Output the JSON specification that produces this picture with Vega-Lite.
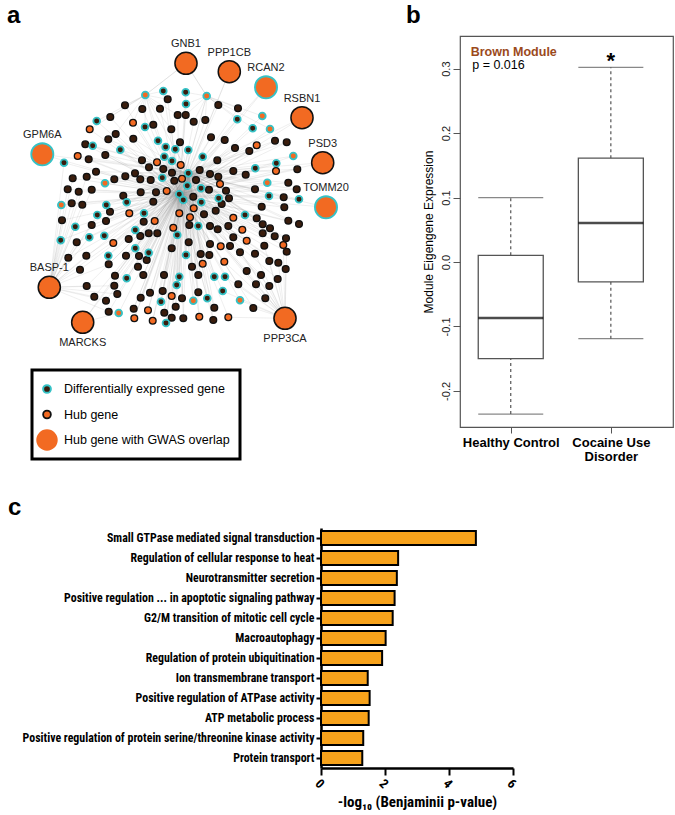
{
"$schema":"https://vega.github.io/schema/vega-lite/v6.json",
"padding":{"left":7,"top":3,"right":0,"bottom":0},
"config":{"view":{"stroke":null},"font":"Liberation Sans","axis":{"grid":false},"title":{"anchor":"start","fontSize":24,"fontWeight":"bold","font":"Liberation Sans","color":"black","offset":8}},
"datasets":{
"nodes":[
{"id":"T1","x":145.3,"y":95,"t":"OT","a":"GNB1","b":"C"},
{"x":163.3,"y":91,"t":"BT","a":"T1","b":"C"},
{"x":167.7,"y":99.3,"t":"B","a":"T1","b":"C"},
{"x":125,"y":105.3,"t":"B","a":"T1","b":"C"},
{"x":142.3,"y":109,"t":"B","a":"T1","b":"C"},
{"x":160,"y":108.7,"t":"B","a":"T1","b":"C"},
{"x":177.7,"y":115,"t":"B","a":"T1","b":"C"},
{"x":110.3,"y":117,"t":"B","a":"T1","b":"C"},
{"x":96.7,"y":121,"t":"BT","a":"T1","b":"C"},
{"x":133,"y":122.7,"t":"OB","a":"T1","b":"C"},
{"x":145,"y":127,"t":"BT","a":"T1","b":"C"},
{"x":153.3,"y":124.7,"t":"B","a":"T1","b":"C"},
{"x":89.7,"y":129.3,"t":"OB","a":"T1","b":"C"},
{"x":171.3,"y":129.3,"t":"B","a":"T1","b":"C"},
{"x":115.7,"y":134,"t":"B","a":"T1","b":"C"},
{"x":108.3,"y":139.3,"t":"B","a":"C2","b":"C"},
{"x":133.3,"y":138.7,"t":"B","a":"C2","b":"C"},
{"x":158,"y":140.7,"t":"BT","a":"C2","b":"C"},
{"x":85.3,"y":144.3,"t":"B","a":"C2","b":"C"},
{"x":92.7,"y":145.7,"t":"BT","a":"C2","b":"C"},
{"x":120.3,"y":149.7,"t":"BT","a":"C2","b":"C"},
{"x":165.7,"y":147,"t":"BT","a":"C2","b":"C"},
{"x":175.3,"y":149.3,"t":"BT","a":"C2","b":"C"},
{"x":105.3,"y":155,"t":"B","a":"C2","b":"C"},
{"x":77.7,"y":156,"t":"OB","a":"C2","b":"C"},
{"x":88.7,"y":159.3,"t":"B","a":"C2","b":"C"},
{"x":142,"y":160.3,"t":"B","a":"C2","b":"C"},
{"x":164.3,"y":156.7,"t":"BT","a":"C2","b":"C"},
{"x":172,"y":161,"t":"BT","a":"C2","b":"C"},
{"x":157,"y":162.3,"t":"OB","a":"C2","b":"C"},
{"x":64,"y":162.7,"t":"BT","a":"BASP-1","b":"C"},
{"x":149,"y":167.3,"t":"B","a":"C2","b":"C"},
{"x":163.3,"y":169,"t":"B","a":"C2","b":"C"},
{"x":96,"y":171.7,"t":"B","a":"C2","b":"C"},
{"x":86.7,"y":176.7,"t":"B","a":"BASP-1","b":"C"},
{"x":72.7,"y":178.3,"t":"B","a":"BASP-1","b":"C"},
{"x":125.3,"y":176.3,"t":"B","a":"C2","b":"C"},
{"x":135,"y":173.3,"t":"B","a":"C2","b":"C"},
{"x":172,"y":172.7,"t":"B","a":"C2","b":"C"},
{"x":114.3,"y":179.3,"t":"B","a":"C2","b":"C"},
{"x":140.3,"y":179.3,"t":"B","a":"C2","b":"C"},
{"x":150.7,"y":180,"t":"B","a":"C2","b":"C"},
{"x":162.3,"y":177.7,"t":"BT","a":"C2","b":"C"},
{"x":174.3,"y":180.7,"t":"B","a":"C2","b":"C"},
{"x":182,"y":178.7,"t":"OB","a":"C2","b":"C"},
{"x":105,"y":183.3,"t":"OT","a":"C2","b":"C"},
{"x":185.7,"y":92.3,"t":"BT","a":"T2","b":"C"},
{"id":"T2","x":206.7,"y":96,"t":"OT","a":"GNB1","b":"C"},
{"x":218.3,"y":105,"t":"B","a":"T2","b":"C"},
{"x":238,"y":108.3,"t":"B","a":"T2","b":"C"},
{"x":185.7,"y":115,"t":"B","a":"T2","b":"C"},
{"x":193.7,"y":121.7,"t":"B","a":"T2","b":"C"},
{"x":205.3,"y":120,"t":"B","a":"T2","b":"C"},
{"x":237.3,"y":119.3,"t":"BT","a":"T2","b":"C"},
{"x":262.3,"y":116,"t":"OT","a":"T2","b":"C"},
{"x":252.7,"y":128.3,"t":"BT","a":"T2","b":"C"},
{"x":270,"y":129,"t":"OT","a":"T2","b":"C"},
{"x":211,"y":137.3,"t":"B","a":"C2","b":"C"},
{"x":224.7,"y":140,"t":"B","a":"C2","b":"C"},
{"x":275,"y":140.7,"t":"B","a":"C2","b":"C"},
{"x":286.7,"y":142.3,"t":"B","a":"C2","b":"C"},
{"x":235,"y":148,"t":"B","a":"C2","b":"C"},
{"x":256.7,"y":145.3,"t":"OB","a":"C2","b":"C"},
{"x":249.3,"y":151,"t":"B","a":"C2","b":"C"},
{"x":188.3,"y":150,"t":"BT","a":"C2","b":"C"},
{"x":202.7,"y":156.7,"t":"BT","a":"C2","b":"C"},
{"x":293.3,"y":156,"t":"OT","a":"C2","b":"C"},
{"x":180.7,"y":165,"t":"OB","a":"C2","b":"C"},
{"x":276.3,"y":163.3,"t":"BT","a":"C2","b":"C"},
{"x":297.3,"y":169.3,"t":"B","a":"C2","b":"C"},
{"x":199.7,"y":170,"t":"B","a":"C2","b":"C"},
{"x":210,"y":174,"t":"B","a":"C2","b":"C"},
{"x":218.3,"y":176.7,"t":"B","a":"C2","b":"C"},
{"x":233.3,"y":171,"t":"B","a":"C2","b":"C"},
{"x":245.7,"y":174.7,"t":"B","a":"C2","b":"C"},
{"x":255.3,"y":168.3,"t":"BT","a":"C2","b":"C"},
{"x":276,"y":171,"t":"OB","a":"C2","b":"C"},
{"x":187.3,"y":185.7,"t":"BT","a":"C2","b":"C"},
{"x":196,"y":180,"t":"B","a":"C2","b":"C"},
{"x":201,"y":188.3,"t":"BT","a":"C2","b":"C"},
{"x":220,"y":184,"t":"OB","a":"C2","b":"C"},
{"x":255,"y":189.3,"t":"B","a":"C2","b":"C"},
{"x":267.3,"y":182.7,"t":"OT","a":"C2","b":"C"},
{"x":288.3,"y":182.7,"t":"B","a":"C2","b":"C"},
{"x":186,"y":104,"t":"BT","a":"T2","b":"C"},
{"x":180,"y":142.3,"t":"B","a":"C2","b":"C"},
{"x":217.3,"y":160.3,"t":"B","a":"C2","b":"C"},
{"id":"C2","x":188.3,"y":173.3,"t":"BT","a":"C","b":"T1"},
{"x":67.7,"y":189.3,"t":"B","a":"BASP-1","b":"C"},
{"x":78.7,"y":191.7,"t":"B","a":"BASP-1","b":"C"},
{"x":91.7,"y":189.7,"t":"B","a":"BASP-1","b":"C"},
{"x":61.3,"y":205,"t":"OT","a":"BASP-1","b":"C"},
{"x":71.7,"y":203.3,"t":"B","a":"BASP-1","b":"C"},
{"x":82.3,"y":204.7,"t":"B","a":"BASP-1","b":"C"},
{"x":106.3,"y":205,"t":"BT","a":"C2","b":"C"},
{"x":110,"y":211.7,"t":"B","a":"C2","b":"C"},
{"x":123.3,"y":195.7,"t":"B","a":"C2","b":"C"},
{"x":126.7,"y":202.3,"t":"BT","a":"C2","b":"C"},
{"x":140.7,"y":192.3,"t":"B","a":"C2","b":"C"},
{"x":153.3,"y":201.7,"t":"B","a":"C2","b":"C"},
{"x":156,"y":192.3,"t":"B","a":"C2","b":"C"},
{"x":166.7,"y":191,"t":"OB","a":"C2","b":"C"},
{"id":"C","x":179.3,"y":194.3,"t":"BT","a":"C2","b":"T2"},
{"x":183.3,"y":200,"t":"BT","a":"C2","b":"C"},
{"x":129.3,"y":213.3,"t":"OB","a":"C2","b":"C"},
{"x":144,"y":213.3,"t":"BT","a":"C2","b":"C"},
{"x":154.7,"y":221,"t":"OB","a":"C2","b":"C"},
{"x":143.7,"y":221.7,"t":"B","a":"C2","b":"C"},
{"x":179.3,"y":213.3,"t":"OB","a":"C2","b":"C"},
{"x":62,"y":220.3,"t":"B","a":"BASP-1","b":"C"},
{"x":97.3,"y":215,"t":"BT","a":"BASP-1","b":"C"},
{"x":91.7,"y":225,"t":"B","a":"BASP-1","b":"C"},
{"x":106,"y":221,"t":"B","a":"C2","b":"C"},
{"x":75.3,"y":226.7,"t":"BT","a":"BASP-1","b":"C"},
{"x":89.3,"y":237.3,"t":"BT","a":"BASP-1","b":"C"},
{"x":104.3,"y":235.7,"t":"BT","a":"C2","b":"C"},
{"x":60.7,"y":240.3,"t":"BT","a":"BASP-1","b":"C"},
{"x":76.7,"y":242.3,"t":"B","a":"BASP-1","b":"C"},
{"x":113.3,"y":243,"t":"OB","a":"C2","b":"C"},
{"x":128.7,"y":239,"t":"B","a":"C2","b":"C"},
{"x":135.3,"y":230,"t":"BT","a":"C2","b":"C"},
{"x":140.3,"y":236,"t":"B","a":"C2","b":"C"},
{"x":148.7,"y":233.3,"t":"B","a":"C2","b":"C"},
{"x":157.3,"y":233.3,"t":"B","a":"C2","b":"C"},
{"x":173.3,"y":227.7,"t":"OB","a":"C2","b":"C"},
{"x":177.3,"y":235,"t":"BT","a":"C2","b":"C"},
{"x":171.7,"y":248.3,"t":"B","a":"C2","b":"C"},
{"x":135.3,"y":248.3,"t":"BT","a":"C2","b":"C"},
{"x":148.7,"y":252.7,"t":"BT","a":"C2","b":"C"},
{"x":68.3,"y":257.7,"t":"B","a":"BASP-1","b":"C"},
{"x":86.3,"y":255.7,"t":"B","a":"BASP-1","b":"C"},
{"x":108.3,"y":255.7,"t":"BT","a":"C2","b":"C"},
{"x":126,"y":255.7,"t":"B","a":"C2","b":"C"},
{"x":139,"y":256,"t":"B","a":"C2","b":"C"},
{"x":146.7,"y":260,"t":"B","a":"C2","b":"C"},
{"x":108.7,"y":264.3,"t":"B","a":"BASP-1","b":"C"},
{"x":138,"y":266.7,"t":"B","a":"C2","b":"C"},
{"x":80,"y":269.7,"t":"B","a":"BASP-1","b":"C"},
{"x":115,"y":275.7,"t":"B","a":"C2","b":"C"},
{"x":126.7,"y":278.3,"t":"BT","a":"C2","b":"C"},
{"x":143.3,"y":275,"t":"B","a":"C2","b":"C"},
{"x":164,"y":275,"t":"B","a":"C2","b":"C"},
{"x":179.3,"y":276.7,"t":"BT","a":"C2","b":"C"},
{"x":86.7,"y":286,"t":"B","a":"BASP-1","b":"C"},
{"x":114.3,"y":285.7,"t":"B","a":"BASP-1","b":"C"},
{"x":176.7,"y":285,"t":"BT","a":"C2","b":"C"},
{"x":117.3,"y":294,"t":"B","a":"BASP-1","b":"C"},
{"x":94.3,"y":296.7,"t":"B","a":"BASP-1","b":"C"},
{"x":140.7,"y":297.7,"t":"B","a":"C2","b":"C"},
{"x":150,"y":292.7,"t":"B","a":"C2","b":"C"},
{"x":162.7,"y":291,"t":"B","a":"C2","b":"C"},
{"x":171.7,"y":296,"t":"OB","a":"C2","b":"C"},
{"x":182,"y":298.3,"t":"B","a":"C2","b":"C"},
{"x":106,"y":300.7,"t":"B","a":"BASP-1","b":"C"},
{"x":133.7,"y":308.7,"t":"B","a":"C2","b":"C"},
{"x":161,"y":301.7,"t":"BT","a":"C2","b":"C"},
{"x":175.7,"y":306.7,"t":"B","a":"C2","b":"C"},
{"x":108.7,"y":311.7,"t":"B","a":"BASP-1","b":"C"},
{"x":118.7,"y":313,"t":"OT","a":"MARCKS","b":"C"},
{"x":148,"y":310.3,"t":"OB","a":"C2","b":"C"},
{"x":164.3,"y":312.7,"t":"B","a":"C2","b":"C"},
{"x":134.3,"y":318.3,"t":"OB","a":"C2","b":"C"},
{"x":152.7,"y":320.7,"t":"OB","a":"C2","b":"C"},
{"x":166,"y":323,"t":"BT","a":"C2","b":"C"},
{"x":171.7,"y":317.7,"t":"B","a":"C2","b":"C"},
{"x":183.3,"y":318.3,"t":"B","a":"C2","b":"C"},
{"x":209,"y":189.7,"t":"B","a":"C2","b":"C"},
{"x":226,"y":190.7,"t":"B","a":"C2","b":"C"},
{"x":296.7,"y":189.3,"t":"B","a":"C2","b":"C"},
{"x":193.3,"y":196.7,"t":"B","a":"C2","b":"C"},
{"x":201.3,"y":202.3,"t":"BT","a":"C2","b":"C"},
{"x":218.7,"y":198.3,"t":"BT","a":"C2","b":"C"},
{"x":229,"y":198.3,"t":"B","a":"C2","b":"C"},
{"x":221.7,"y":204,"t":"B","a":"C2","b":"C"},
{"x":269,"y":196,"t":"BT","a":"C2","b":"C"},
{"x":283.7,"y":197.3,"t":"B","a":"C2","b":"C"},
{"x":299,"y":199.3,"t":"BT","a":"C2","b":"C"},
{"x":193.7,"y":208.3,"t":"OB","a":"C2","b":"C"},
{"x":204,"y":214.3,"t":"B","a":"C2","b":"C"},
{"x":215.7,"y":210.7,"t":"B","a":"C2","b":"C"},
{"x":190,"y":217.3,"t":"OB","a":"C2","b":"C"},
{"x":261.7,"y":206.7,"t":"B","a":"C2","b":"C"},
{"x":284.3,"y":207.3,"t":"B","a":"C2","b":"C"},
{"x":233.3,"y":217.7,"t":"OB","a":"C2","b":"C"},
{"x":245,"y":215,"t":"BT","a":"C2","b":"C"},
{"x":256.7,"y":218.3,"t":"B","a":"C2","b":"C"},
{"x":189.3,"y":225,"t":"B","a":"C2","b":"C"},
{"x":198.3,"y":226,"t":"BT","a":"C2","b":"C"},
{"x":210,"y":226,"t":"B","a":"C2","b":"C"},
{"x":217.7,"y":229.3,"t":"B","a":"C2","b":"C"},
{"x":228.3,"y":226,"t":"B","a":"C2","b":"C"},
{"x":242.3,"y":229.7,"t":"OB","a":"C2","b":"C"},
{"x":262.7,"y":224.3,"t":"B","a":"C2","b":"C"},
{"x":270,"y":228.3,"t":"B","a":"C2","b":"C"},
{"x":288.3,"y":220.7,"t":"B","a":"C2","b":"C"},
{"x":299,"y":224,"t":"B","a":"C2","b":"C"},
{"x":233.3,"y":237.3,"t":"B","a":"C2","b":"C"},
{"x":246.7,"y":240.7,"t":"OB","a":"C2","b":"C"},
{"x":262.7,"y":233.3,"t":"B","a":"C2","b":"C"},
{"x":274.7,"y":236.3,"t":"B","a":"C2","b":"C"},
{"x":286,"y":238.3,"t":"B","a":"C2","b":"C"},
{"x":283.3,"y":245,"t":"OB","a":"PPP3CA","b":"C"},
{"x":188.7,"y":242.3,"t":"B","a":"C2","b":"C"},
{"x":220.7,"y":246.3,"t":"OB","a":"C2","b":"C"},
{"x":230,"y":246,"t":"B","a":"C2","b":"C"},
{"x":210,"y":244,"t":"B","a":"C2","b":"C"},
{"x":264.3,"y":245.7,"t":"B","a":"PPP3CA","b":"C"},
{"x":286.7,"y":251.7,"t":"B","a":"PPP3CA","b":"C"},
{"x":186,"y":255,"t":"BT","a":"C2","b":"C"},
{"x":200.7,"y":254,"t":"B","a":"C2","b":"C"},
{"x":209.3,"y":255,"t":"B","a":"C2","b":"C"},
{"x":240,"y":252.3,"t":"B","a":"PPP3CA","b":"C"},
{"x":255,"y":253.7,"t":"B","a":"PPP3CA","b":"C"},
{"x":202.7,"y":263.7,"t":"OB","a":"C2","b":"C"},
{"x":224.3,"y":261.7,"t":"OB","a":"PPP3CA","b":"C"},
{"x":269.3,"y":261,"t":"B","a":"PPP3CA","b":"C"},
{"x":278.3,"y":262.7,"t":"B","a":"PPP3CA","b":"C"},
{"x":192,"y":266.7,"t":"B","a":"C2","b":"C"},
{"x":246.7,"y":271,"t":"B","a":"PPP3CA","b":"C"},
{"x":285.7,"y":269,"t":"B","a":"PPP3CA","b":"C"},
{"x":198.3,"y":275,"t":"B","a":"C2","b":"C"},
{"x":214.3,"y":276.7,"t":"BT","a":"C2","b":"C"},
{"x":225,"y":276.7,"t":"BT","a":"PPP3CA","b":"C"},
{"x":261,"y":275,"t":"B","a":"PPP3CA","b":"C"},
{"x":277.7,"y":279,"t":"B","a":"PPP3CA","b":"C"},
{"x":238.3,"y":284.3,"t":"B","a":"PPP3CA","b":"C"},
{"x":256,"y":284.3,"t":"B","a":"PPP3CA","b":"C"},
{"x":269.3,"y":286,"t":"B","a":"PPP3CA","b":"C"},
{"x":198.3,"y":292.3,"t":"B","a":"C2","b":"C"},
{"x":222.7,"y":291,"t":"BT","a":"PPP3CA","b":"C"},
{"x":193.3,"y":300.7,"t":"OT","a":"C2","b":"C"},
{"x":207.3,"y":298.3,"t":"BT","a":"C2","b":"C"},
{"x":240,"y":300.3,"t":"OT","a":"PPP3CA","b":"C"},
{"x":265.3,"y":298.3,"t":"B","a":"PPP3CA","b":"C"},
{"x":214.3,"y":307.7,"t":"B","a":"C2","b":"C"},
{"x":253.3,"y":308,"t":"B","a":"PPP3CA","b":"C"},
{"x":199.3,"y":316.7,"t":"OB","a":"C2","b":"C"},
{"x":213.3,"y":320,"t":"B","a":"C2","b":"C"},
{"x":228.3,"y":317.3,"t":"OB","a":"PPP3CA","b":"C"},
{"id":"GNB1","x":186,"y":63.3,"t":"G","pos":"up","a":"T1","b":"T2"},
{"id":"PPP1CB","x":229.3,"y":71.7,"t":"G","pos":"up","a":"C2","b":"C"},
{"id":"RCAN2","x":266,"y":87.3,"t":"GT","pos":"up","a":"C2","b":"C"},
{"id":"RSBN1","x":302,"y":117.7,"t":"G","pos":"up","a":"C2","b":"C"},
{"id":"PSD3","x":322.7,"y":162.7,"t":"G","pos":"up","a":"C2","b":"C"},
{"id":"TOMM20","x":326,"y":207.3,"t":"GT","pos":"up","a":"C2","b":"C"},
{"id":"GPM6A","x":42.3,"y":154.3,"t":"GT","pos":"up","a":"C2","b":"C"},
{"id":"BASP-1","x":49.3,"y":287.3,"t":"G","pos":"up","a":"C2","b":"C"},
{"id":"MARCKS","x":82.7,"y":322.3,"t":"G","pos":"down","a":"C2","b":"C"},
{"id":"PPP3CA","x":285,"y":318.3,"t":"G","pos":"down","a":"C2","b":"C"}
],
"leg":[{"item":"Differentially expressed gene"},{"item":"Hub gene"},{"item":"Hub gene with GWAS overlap"}],
"box":[
{"g":"Healthy Control","i":1,"lo":-0.236,"q1":-0.150,"med":-0.087,"q3":0.0104,"hi":0.100},
{"g":"Cocaine Use Disorder","i":2,"lo":-0.119,"q1":-0.031,"med":0.0606,"q3":0.161,"hi":0.302}
],
"ann":[
{"k":"title","txt":"Brown Module","ax":0.6,"ay":0.326},
{"k":"p","txt":"p = 0.016","ax":0.615,"ay":0.305},
{"k":"star","txt":"*","ax":2,"ay":0.312}
],
"go":[
{"term":"Small GTPase mediated signal transduction","v":4.84},
{"term":"Regulation of cellular response to heat","v":2.41},
{"term":"Neurotransmitter secretion","v":2.37},
{"term":"Positive regulation ... in apoptotic signaling pathway","v":2.30},
{"term":"G2/M transition of mitotic cell cycle","v":2.24},
{"term":"Macroautophagy","v":2.02},
{"term":"Regulation of protein ubiquitination","v":1.91},
{"term":"Ion transmembrane transport","v":1.46},
{"term":"Positive regulation of ATPase activity","v":1.52},
{"term":"ATP metabolic process","v":1.49},
{"term":"Positive regulation of protein serine/threonine kinase activity","v":1.32},
{"term":"Protein transport","v":1.29}
]
},
"columns":1,
"spacing":32,
"concat":[
{"hconcat":[
{"vconcat":[
{
"width":344,"height":322,
"title":{"text":"a"},
"encoding":{"x":{"field":"x","type":"quantitative","scale":{"domain":[7,351],"nice":false,"zero":false},"axis":null},"y":{"field":"y","type":"quantitative","scale":{"domain":[36,358],"nice":false,"zero":false,"reverse":true},"axis":null}},
"layer":[
{"data":{"name":"nodes"},
"transform":[{"fold":["a","b"],"as":["k","hub"]},{"lookup":"hub","from":{"data":{"name":"nodes"},"key":"id","fields":["x","y"]},"as":["hx","hy"]},{"filter":"isValid(datum.hx)"}],
"mark":{"type":"rule","stroke":"#8a8a8a","strokeWidth":0.4,"opacity":0.35},
"encoding":{"x2":{"field":"hx"},"y2":{"field":"hy"}}},
{"data":{"name":"nodes"},"transform":[{"filter":{"field":"t","equal":"B"}}],
"mark":{"type":"point","filled":true,"size":46,"fill":"#3A1D0D","stroke":"#111111","strokeWidth":1.3,"opacity":1}},
{"data":{"name":"nodes"},"transform":[{"filter":{"field":"t","equal":"BT"}}],
"mark":{"type":"point","filled":true,"size":46,"fill":"#3A1D0D","stroke":"#35C2C6","strokeWidth":1.8,"opacity":1}},
{"data":{"name":"nodes"},"transform":[{"filter":{"field":"t","equal":"OB"}}],
"mark":{"type":"point","filled":true,"size":46,"fill":"#F26A22","stroke":"#111111","strokeWidth":1.3,"opacity":1}},
{"data":{"name":"nodes"},"transform":[{"filter":{"field":"t","equal":"OT"}}],
"mark":{"type":"point","filled":true,"size":46,"fill":"#F26A22","stroke":"#35C2C6","strokeWidth":1.8,"opacity":1}},
{"data":{"name":"nodes"},"transform":[{"filter":{"field":"t","equal":"G"}}],
"mark":{"type":"point","filled":true,"size":490,"fill":"#F26A22","stroke":"#111111","strokeWidth":1.5,"opacity":1}},
{"data":{"name":"nodes"},"transform":[{"filter":{"field":"t","equal":"GT"}}],
"mark":{"type":"point","filled":true,"size":490,"fill":"#F26A22","stroke":"#35C2C6","strokeWidth":1.8,"opacity":1}},
{"data":{"name":"nodes"},
"transform":[{"filter":{"field":"pos","equal":"up"}}],
"mark":{"type":"text","dy":-19,"fontSize":11,"font":"Liberation Sans","color":"#222222"},
"encoding":{"text":{"field":"id"}}},
{"data":{"name":"nodes"},
"transform":[{"filter":{"field":"pos","equal":"down"}}],
"mark":{"type":"text","dy":21,"fontSize":11,"font":"Liberation Sans","color":"#222222"},
"encoding":{"text":{"field":"id"}}}
]
},
{"hconcat":[
{"width":1,"height":89,"data":{"values":[]},"mark":"point"},
{
"width":208,"height":89,
"view":{"stroke":"black","strokeWidth":3,"fill":"white"},
"data":{"name":"leg"},
"encoding":{"y":{"field":"item","type":"nominal","sort":null,"scale":{"type":"point","padding":0.745,"domain":["Differentially expressed gene","Hub gene","Hub gene with GWAS overlap"]},"axis":null}},
"layer":[
{"transform":[{"filter":{"field":"item","equal":"Differentially expressed gene"}}],
"mark":{"type":"point","filled":true,"size":60,"fill":"#3A1D0D","stroke":"#35C2C6","strokeWidth":2,"opacity":1},
"encoding":{"x":{"datum":0,"type":"quantitative","scale":{"domain":[-0.882,11.35],"nice":false,"zero":false},"axis":null}}},
{"transform":[{"filter":{"field":"item","equal":"Hub gene"}}],
"mark":{"type":"point","filled":true,"size":60,"fill":"#F26A22","stroke":"#111111","strokeWidth":1.8,"opacity":1},
"encoding":{"x":{"datum":0,"type":"quantitative"}}},
{"transform":[{"filter":{"field":"item","equal":"Hub gene with GWAS overlap"}}],
"mark":{"type":"point","filled":true,"size":460,"fill":"#F26A22","strokeWidth":0,"opacity":1},
"encoding":{"x":{"datum":0,"type":"quantitative"}}},
{"mark":{"type":"text","align":"left","baseline":"middle","fontSize":12.5,"color":"black","font":"Liberation Sans"},
"encoding":{"x":{"datum":1,"type":"quantitative"},"text":{"field":"item"}}}
]
}
],"spacing":22}
],"spacing":10},
{
"width":213,"height":391,
"view":{"stroke":"#555555","strokeWidth":1.2},
"title":{"text":"b","dx":-16},
"data":{"name":"box"},
"encoding":{"x":{"field":"i","type":"quantitative","title":null,"scale":{"domain":[0.543,2.571],"nice":false,"zero":false},
"axis":{"values":[1,2],"title":null,"domain":false,"tickSize":6,"tickColor":"#555555","labelFontSize":13,"labelFontWeight":"bold","labelColor":"black","labelPadding":3,"labelLineHeight":14,
"labelExpr":"datum.value == 1 ? 'Healthy Control' : ['Cocaine Use','Disorder']"}}},
"layer":[
{"mark":{"type":"rule","strokeDash":[3,3],"color":"#555555","strokeWidth":1.2},
"encoding":{"y":{"field":"lo","type":"quantitative","title":"Module Eigengene Expression","scale":{"domain":[-0.256,0.3506],"nice":false,"zero":false},
"axis":{"values":[-0.2,-0.1,0,0.1,0.2,0.3],"title":"Module Eigengene Expression","titleFontSize":12,"titleFontWeight":"normal","titleColor":"black","titlePadding":5,"domain":false,"tickSize":7,"tickColor":"#555555","labelAngle":-90,"labelAlign":"center","labelBaseline":"bottom","labelPadding":2,"labelFontSize":11,"labelColor":"#222222",
"labelExpr":"replace(format(datum.value, '.1f'), '\u2212', '-')"}},"y2":{"field":"q1"}}},
{"mark":{"type":"rule","strokeDash":[3,3],"color":"#555555","strokeWidth":1.2},
"encoding":{"y":{"field":"q3","type":"quantitative","title":"Module Eigengene Expression"},"y2":{"field":"hi"}}},
{"mark":{"type":"bar","width":65,"fill":"white","stroke":"#555555","strokeWidth":1.3},
"encoding":{"y":{"field":"q1","type":"quantitative","title":"Module Eigengene Expression"},"y2":{"field":"q3"}}},
{"mark":{"type":"tick","orient":"horizontal","size":65,"thickness":1.2,"color":"#555555"},
"encoding":{"y":{"field":"lo","type":"quantitative","title":"Module Eigengene Expression"}}},
{"mark":{"type":"tick","orient":"horizontal","size":65,"thickness":1.2,"color":"#555555"},
"encoding":{"y":{"field":"hi","type":"quantitative","title":"Module Eigengene Expression"}}},
{"mark":{"type":"tick","orient":"horizontal","size":65,"thickness":2.5,"color":"black"},
"encoding":{"y":{"field":"med","type":"quantitative","title":"Module Eigengene Expression"}}},
{"data":{"name":"ann"},"transform":[{"filter":{"field":"k","equal":"title"}}],
"mark":{"type":"text","align":"left","baseline":"middle","fontSize":12.5,"fontWeight":"bold","color":"#9B4A1C"},
"encoding":{"x":{"field":"ax","type":"quantitative","title":null},"y":{"field":"ay","type":"quantitative","title":"Module Eigengene Expression"},"text":{"field":"txt"}}},
{"data":{"name":"ann"},"transform":[{"filter":{"field":"k","equal":"p"}}],
"mark":{"type":"text","align":"left","baseline":"middle","fontSize":12.5,"color":"black"},
"encoding":{"x":{"field":"ax","type":"quantitative","title":null},"y":{"field":"ay","type":"quantitative","title":"Module Eigengene Expression"},"text":{"field":"txt"}}},
{"data":{"name":"ann"},"transform":[{"filter":{"field":"k","equal":"star"}}],
"mark":{"type":"text","align":"center","baseline":"middle","fontSize":22,"fontWeight":"bold","color":"black"},
"encoding":{"x":{"field":"ax","type":"quantitative","title":null},"y":{"field":"ay","type":"quantitative","title":"Module Eigengene Expression"},"text":{"field":"txt"}}}
]
}
],"spacing":54},
{"hconcat":[
{"width":1,"height":240,"data":{"values":[]},"mark":"point"},
{
"width":192,"height":240,
"title":{"text":"c","dx":-14,"offset":8},
"data":{"name":"go"},
"mark":{"type":"bar","fill":"#F7A21B","stroke":"black","strokeWidth":2},
"encoding":{
"y":{"field":"term","type":"nominal","sort":null,"scale":{"paddingInner":0.3,"paddingOuter":0.15},
"axis":{"title":null,"labelFont":"Roboto Condensed, DejaVu Sans Condensed","labelFontWeight":"bold","labelFontSize":11.9,"labelColor":"black","labelLimit":0,"domainColor":"black","domainWidth":2.5,"tickColor":"black","tickWidth":2,"tickSize":5,"labelPadding":2}},
"x":{"field":"v","type":"quantitative","scale":{"domain":[0,6],"nice":false,"zero":false},
"axis":{"values":[0,2,4,6],"title":"-log₁₀ (Benjaminii p-value)","titleFont":"Roboto Condensed, DejaVu Sans Condensed","titleFontSize":15,"titleFontWeight":"bold","titleColor":"black","titlePadding":4,"labelFont":"Roboto Condensed, DejaVu Sans Condensed","labelFontSize":13,"labelFontWeight":"bold","labelColor":"black","labelAngle":45,"domainColor":"black","domainWidth":2.5,"tickColor":"black","tickWidth":2,"tickSize":7}}
}
}
],"spacing":0}
]
}
